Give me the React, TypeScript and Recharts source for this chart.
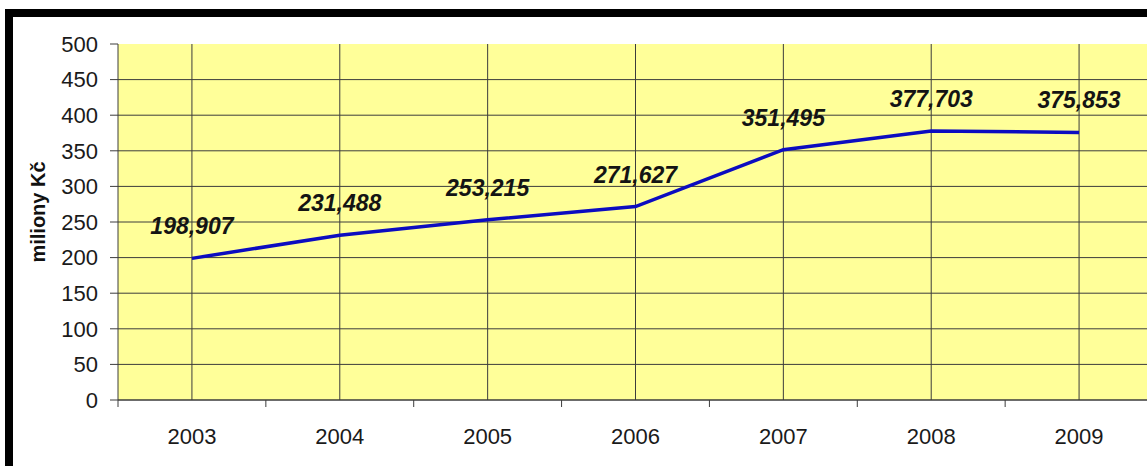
import { LineChart, Line, XAxis, YAxis, CartesianGrid, LabelList } from "recharts";

// naklady v milionech Kc
const years = ["2003", "2004", "2005", "2006", "2007", "2008", "2009"];
const values = [198.907, 231.488, 253.215, 271.627, 351.495, 377.703, 375.853];
const yTicks = [0, 50, 100, 150, 200, 250, 300, 350, 400, 450, 500];
// whole numbers = category edges (tick marks), halves = category centres (labels)
const xTicks = [0, 0.5, 1, 1.5, 2, 2.5, 3, 3.5, 4, 4.5, 5, 5.5, 6, 6.5, 7];

const data = years.map((year, i) => ({ year, pos: i + 0.5, value: values[i] }));
const gridY = yTicks.filter((t) => t < 500);
const gridX = data.map((d) => d.pos);

const FONT = "'Liberation Sans', Arial, sans-serif";
const GRID = "#3c3c3c";

function YearTick({ x, y, payload }: any) {
  const v = payload.value;
  if (Number.isInteger(v)) {
    return <line x1={x} x2={x} y1={y} y2={y + 7} stroke={GRID} strokeWidth={1} />;
  }
  return (
    <text x={x} y={y + 44} textAnchor="middle" fontSize={22} fill="#1a1a1a" fontFamily={FONT}>
      {years[Math.floor(v)]}
    </text>
  );
}

function AxisTitle({ viewBox }: any) {
  const cx = viewBox.x + 38;
  const cy = viewBox.y + viewBox.height / 2 - 10;
  return (
    <text
      x={cx}
      y={cy}
      transform={`rotate(-90 ${cx} ${cy})`}
      textAnchor="middle"
      dominantBaseline="central"
      fontSize={20}
      fontWeight="bold"
      fill="#111"
      fontFamily={FONT}
    >
      miliony Kč
    </text>
  );
}

const fmt = (v: number) => v.toFixed(3).replace(".", ",");

export default function App() {
  return (
    <div style={{ position: "absolute", left: 0, top: 0, width: 1147, height: 466, background: "#fff", overflow: "hidden" }}>
      <div style={{ position: "absolute", left: 5, top: 9, width: 8, height: 466, background: "#000" }} />
      <div style={{ position: "absolute", left: 5, top: 9, width: 1147, height: 8, background: "#000" }} />
      <div style={{ position: "absolute", left: 0, top: 0 }}>
        <LineChart width={1153} height={466} data={data} margin={{ top: 44, right: 0, bottom: 0, left: 0 }}>
          <CartesianGrid
            fill="#FFFF99"
            stroke={GRID}
            strokeOpacity={1}
            verticalValues={gridX}
            horizontalValues={gridY}
          />
          <XAxis
            dataKey="pos"
            type="number"
            domain={[0, 7]}
            ticks={xTicks}
            interval={0}
            height={66}
            tickSize={0}
            tickMargin={0}
            tickLine={false}
            axisLine={{ stroke: GRID }}
            tick={<YearTick />}
          />
          <YAxis
            domain={[0, 500]}
            ticks={yTicks}
            interval={0}
            width={118}
            tickSize={8}
            tickMargin={12}
            tickLine={{ stroke: GRID }}
            axisLine={{ stroke: GRID }}
            tick={{ fontSize: 22, fill: "#1a1a1a", fontFamily: FONT }}
            label={<AxisTitle />}
          />
          <Line
            type="linear"
            dataKey="value"
            stroke="#0c0cc0"
            strokeWidth={3.5}
            dot={false}
            isAnimationActive={false}
          >
            <LabelList
              dataKey="value"
              position="top"
              offset={24}
              formatter={fmt as any}
              fontSize={23}
              fontWeight="bold"
              fontStyle="italic"
              fill="#141414"
              fontFamily={FONT}
            />
          </Line>
        </LineChart>
      </div>
    </div>
  );
}
